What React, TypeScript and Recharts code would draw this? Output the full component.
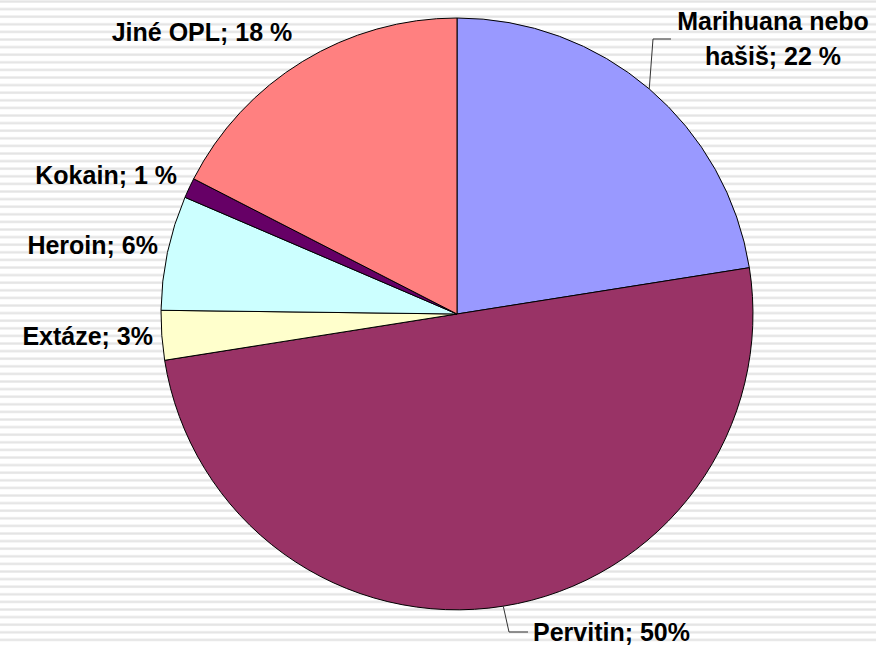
import React from "react";
import { PieChart, Pie, Cell } from "recharts";

const categories = ["Marihuana nebo hašiš", "Pervitin", "Extáze", "Heroin", "Kokain", "Jiné OPL"];
const values = [22.5, 50, 2.7, 6.25, 1.1, 17.45];
const labelLines = [
  ["Marihuana nebo", "hašiš; 22 %"],
  ["Pervitin; 50%"],
  ["Extáze; 3%"],
  ["Heroin; 6%"],
  ["Kokain; 1 %"],
  ["Jiné OPL; 18 %"],
];
const colors = ["#9999FF", "#993366", "#FFFFCC", "#CCFFFF", "#660066", "#FF8080"];

// label layout relative to the pie centre (style only)
const labelLayout = [
  { x: 316, y: -284, anchor: "middle", leader: { ex: 196, ey: -275, hx: 214 } },
  { x: 76, y: 327, anchor: "start", leader: { ex: 52, ey: 318, hx: 71 } },
  { x: -304, y: 31, anchor: "end" },
  { x: -299, y: -60, anchor: "end" },
  { x: -280, y: -130, anchor: "end" },
  { x: -255, y: -273, anchor: "middle" },
] as const;

const data = categories.map((name, i) => ({ name, value: values[i] }));

const RAD = Math.PI / 180;

function renderLabel(props: any) {
  const { cx, cy, midAngle, outerRadius, index } = props;
  const lay: any = labelLayout[index];
  const lines = labelLines[index];
  const out: React.ReactNode[] = [];
  if (lay.leader) {
    const sx = cx + outerRadius * Math.cos(-midAngle * RAD);
    const sy = cy + outerRadius * Math.sin(-midAngle * RAD);
    out.push(
      <polyline
        key="l"
        points={`${sx},${sy} ${cx + lay.leader.ex},${cy + lay.leader.ey} ${cx + lay.leader.hx},${cy + lay.leader.ey}`}
        fill="none"
        stroke="#333"
        strokeWidth={1}
      />
    );
  }
  out.push(
    <text
      key="t"
      x={cx + lay.x}
      y={cy + lay.y}
      textAnchor={lay.anchor}
      fontFamily="'Liberation Sans', Arial, sans-serif"
      fontWeight="bold"
      fontSize={25}
      fill="#000"
    >
      {lines.map((ln, k) => (
        <tspan key={k} x={cx + lay.x} dy={k === 0 ? 0 : 35}>
          {ln}
        </tspan>
      ))}
    </text>
  );
  return <g>{out}</g>;
}

export default function App() {
  return (
    <div style={{ position: "absolute", left: 0, top: 0, width: 876, height: 646, background: "#fff" }}>
      <svg width={876} height={646} style={{ position: "absolute", left: 0, top: 0 }}>
        <defs>
          <pattern id="stripes" width={876} height={7.6} patternUnits="userSpaceOnUse">
            <rect x={0} y={0.4} width={876} height={1.1} fill="#E2E2E2" />
            <rect x={0} y={1.5} width={876} height={0.9} fill="#D6D6D6" />
          </pattern>
        </defs>
        <rect x={0} y={0} width={876} height={646} fill="url(#stripes)" />
      </svg>
      <div style={{ position: "absolute", left: 0, top: 0 }}>
        <PieChart width={876} height={646} margin={{ top: 0, right: 0, bottom: 0, left: 0 }}>
          <Pie
            data={data}
            dataKey="value"
            nameKey="name"
            cx={457}
            cy={314}
            outerRadius={296}
            startAngle={90}
            endAngle={-270}
            stroke="#000"
            strokeWidth={1}
            label={renderLabel}
            labelLine={false}
            isAnimationActive={false}
          >
            {data.map((d, i) => (
              <Cell key={d.name} fill={colors[i]} />
            ))}
          </Pie>
        </PieChart>
      </div>
    </div>
  );
}
